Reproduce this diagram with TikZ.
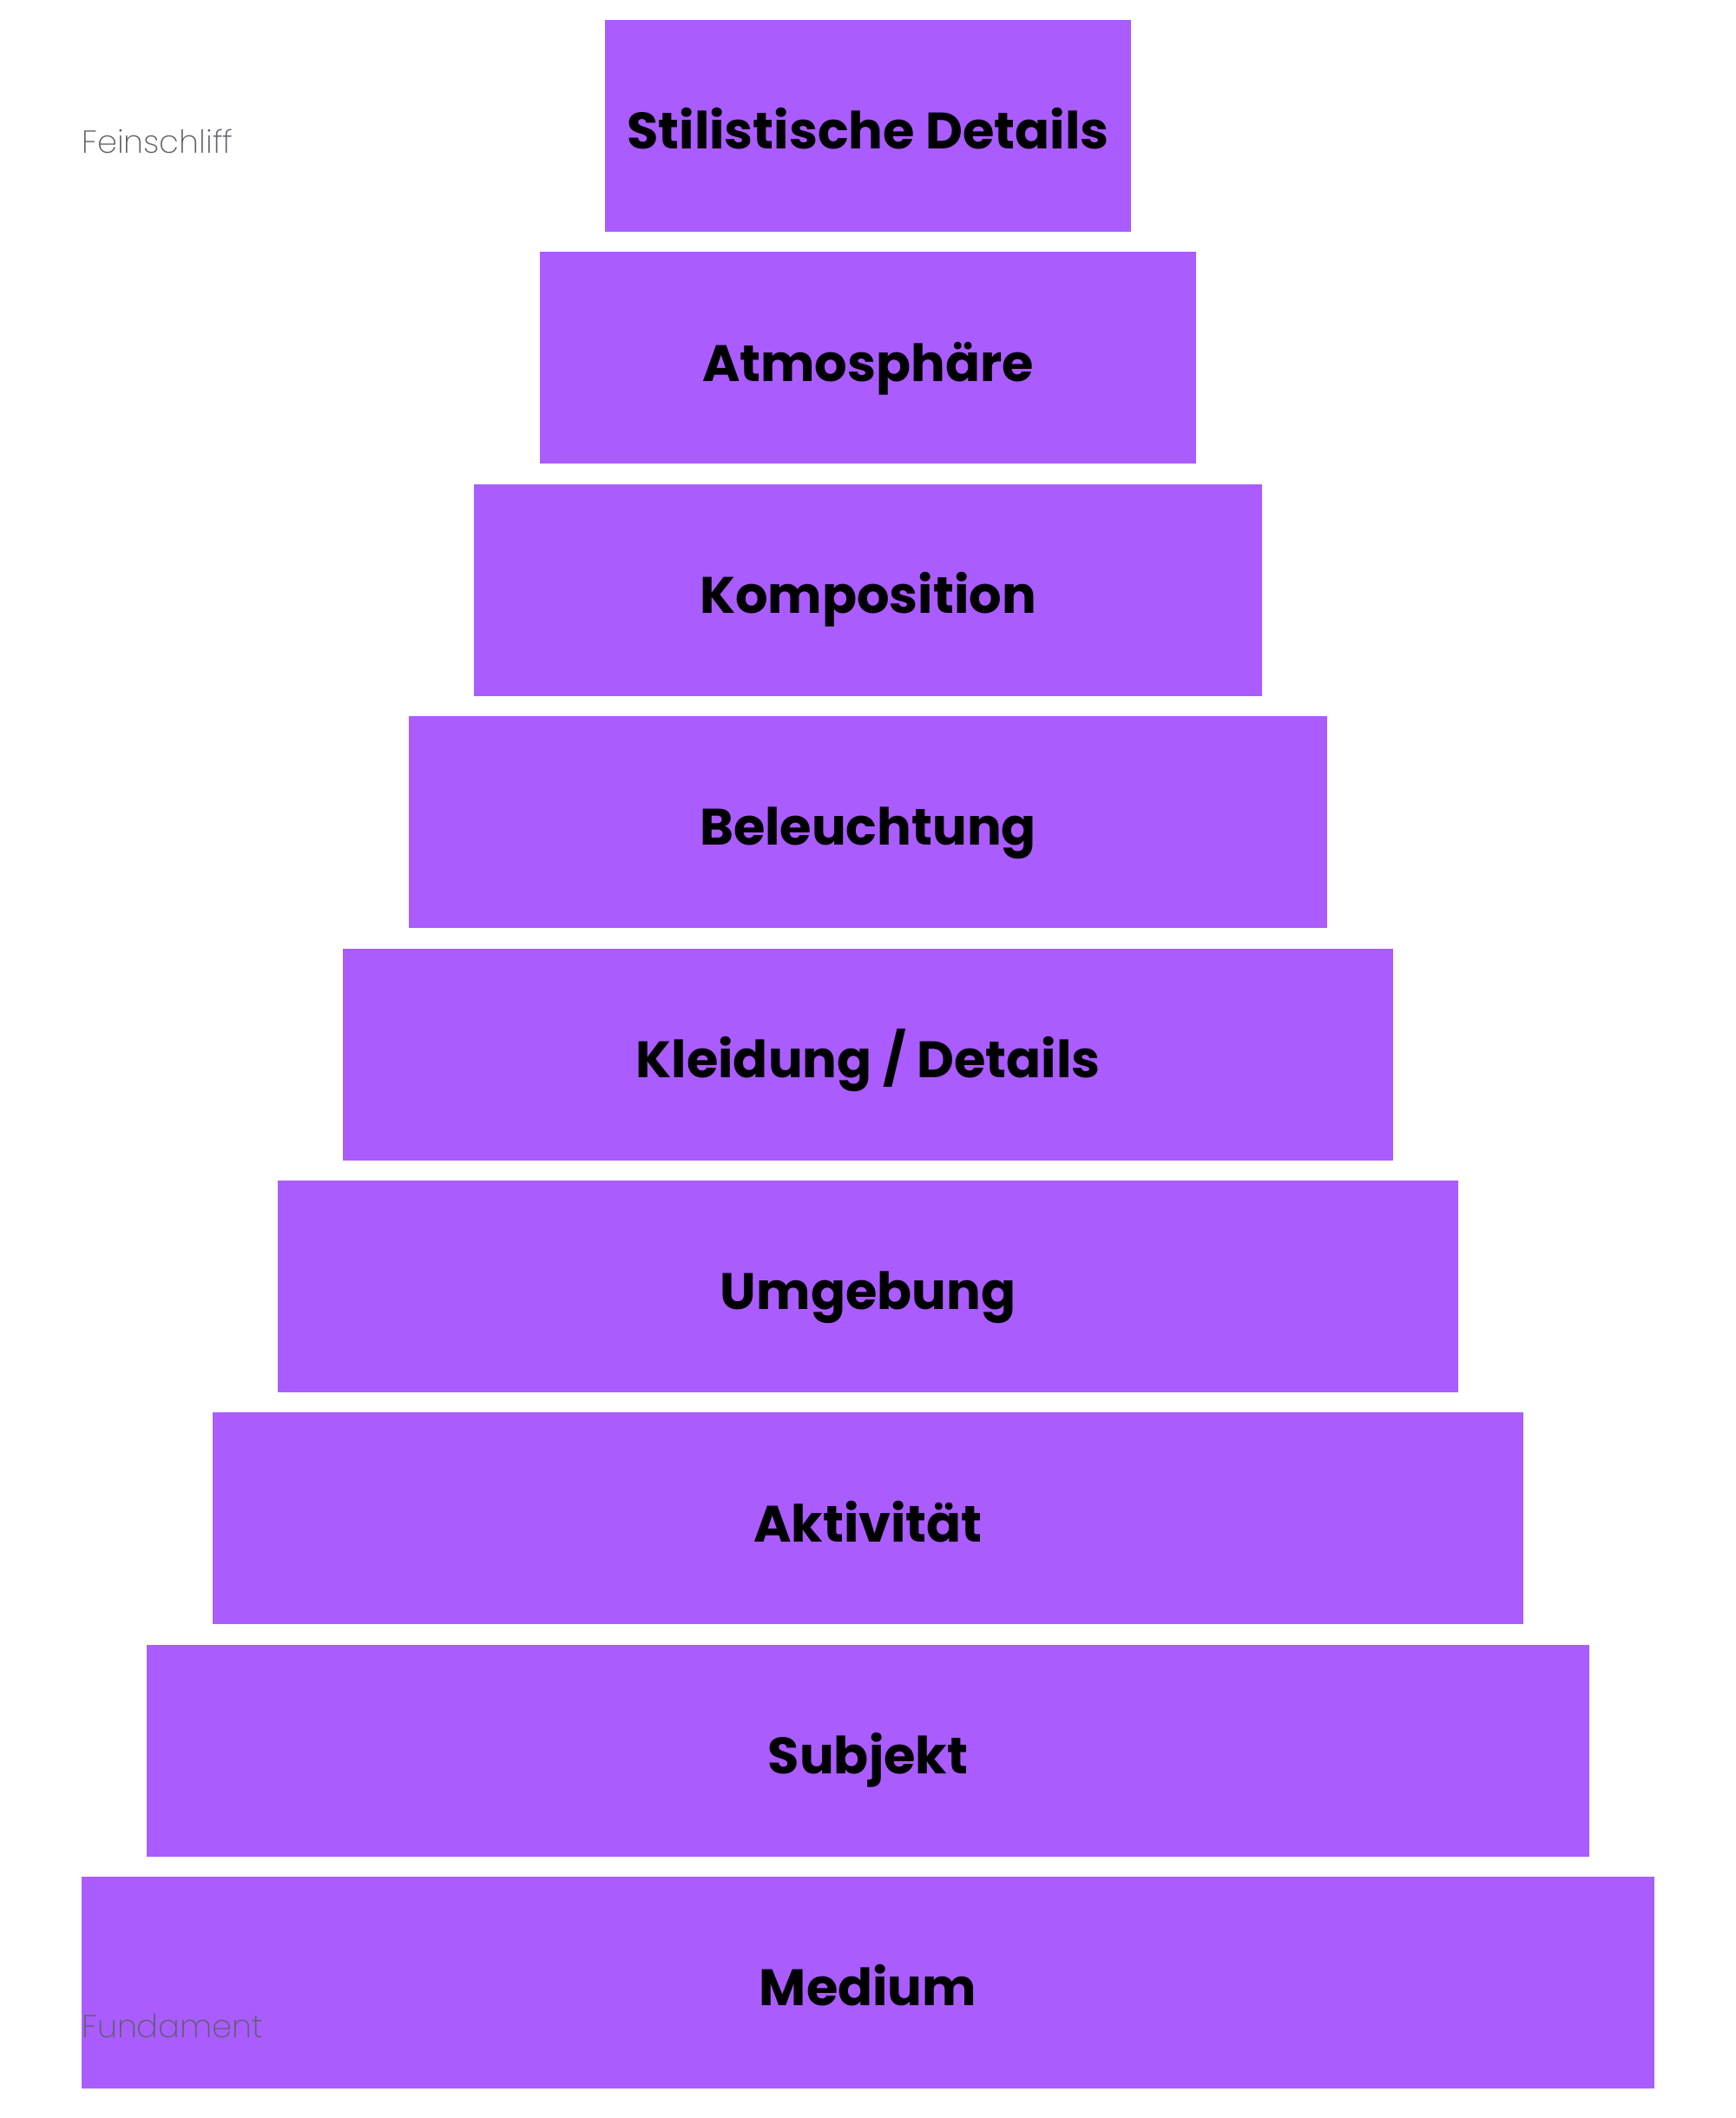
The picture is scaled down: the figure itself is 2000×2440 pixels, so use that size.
\documentclass[tikz,border=0pt]{standalone}
\usepackage{fontspec}
\setmainfont{Poppins}
\newfontfamily\duennfont{Poppins ExtraLight}
\definecolor{lila}{RGB}{170,92,255}
\definecolor{grau}{RGB}{95,95,105}
\begin{document}
\begin{tikzpicture}[
		x=0.3pt, y=-0.3pt,
		stufe/.style={fill=lila, inner sep=0pt, minimum height=73.2pt,
				text height=16pt, text depth=0pt,
				font=\fontsize{17.7}{20}\selectfont\bfseries},
		seite/.style={anchor=base west, inner sep=0pt, text=grau,
				font=\duennfont\fontsize{11}{13}\selectfont}
	]
	\useasboundingbox (0,0) rectangle (2000,2440);
	% Stufen von oben nach unten
	\foreach \name/\titel [count=\i from 0] in {
			stil/Stilistische Details, atmo/Atmosphäre, kompo/Komposition,
			licht/Beleuchtung, kleid/{Kleidung / Details}, umgeb/Umgebung,
			aktiv/Aktivität, subj/Subjekt, medium/Medium} {
		\pgfmathsetmacro{\breite}{(606+150.8*\i)*0.3}
		\node[stufe, minimum width=\breite pt] (\name) at (1000,145+267.4*\i) {\titel};
	}
	\node[seite] (fein) at (94,177) {Feinschliff};
	\node[seite] (fund) at (94,2347) {Fundament};
\end{tikzpicture}
\end{document}
